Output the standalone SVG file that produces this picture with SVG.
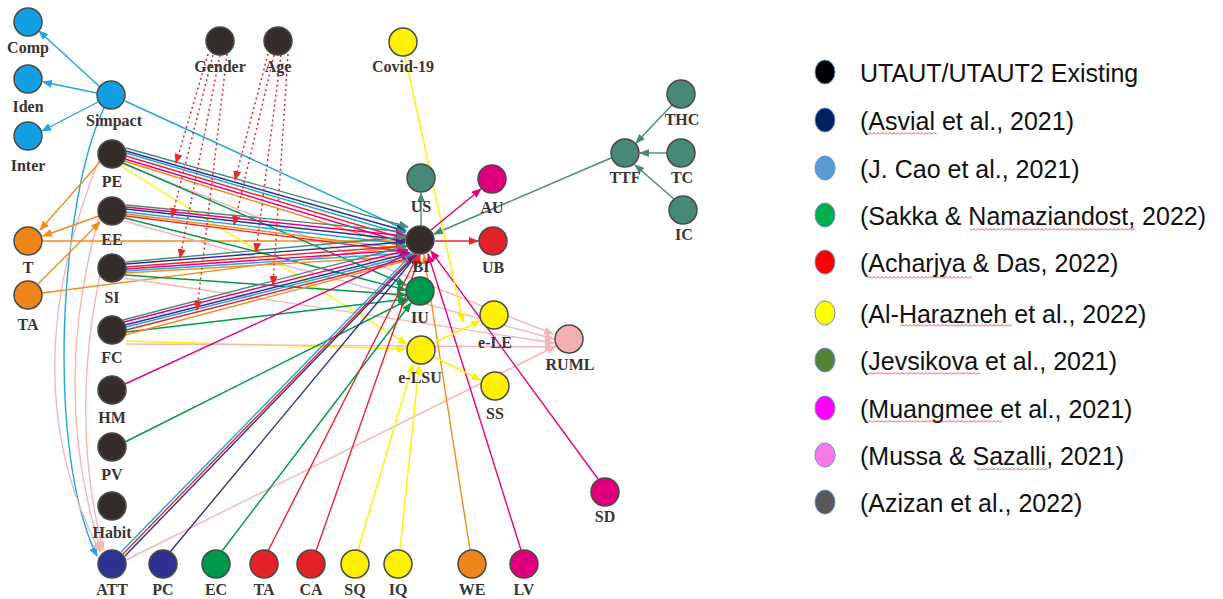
<svg xmlns="http://www.w3.org/2000/svg" width="1223" height="599" viewBox="0 0 1223 599">
<style>
.n{stroke:#4a4a4a;stroke-width:1.5}
.k{fill:#352d2c}.b{fill:#12a0e2}.o{fill:#ee8519}.t{fill:#478877}.m{fill:#e0007e}.r{fill:#e32129}.y{fill:#fff100}.g{fill:#00984a}.v{fill:#2e3190}.p{fill:#f2b1b1}
.lb{font-family:"Liberation Serif",serif;font-weight:bold;font-size:16px;fill:#3b3433;text-anchor:middle}
.c{fill:none;stroke-width:1.4}
.bl{stroke:#1ea5e6;marker-end:url(#m-bl)}
.or{stroke:#f28c1e;marker-end:url(#m-or)}
.rd{stroke:#e8262b;marker-end:url(#m-rd)}
.tl{stroke:#4a8a7a;marker-end:url(#m-tl)}
.nv{stroke:#2e3192;marker-end:url(#m-nv)}
.mg{stroke:#e5007e;marker-end:url(#m-mg)}
.pk{stroke:#f5b5b5;marker-end:url(#m-pk)}
.gn{stroke:#00994c;marker-end:url(#m-gn)}
.yl{stroke:#fff200;marker-end:url(#m-yl)}
.dt{stroke:#e8262b;stroke-dasharray:2 3;stroke-width:1.5;marker-end:url(#m-rd)}
.lg{font-family:"Liberation Sans",Arial,sans-serif;font-size:25px;fill:#111}
.le{stroke:#6a8fd0;stroke-width:1}
</style>
<defs>
<marker id="m-bl" viewBox="0 0 10 8" refX="9" refY="4" markerWidth="10" markerHeight="8" markerUnits="userSpaceOnUse" orient="auto"><path d="M0,0L10,4L0,8z" fill="#1ea5e6"/></marker>
<marker id="m-or" viewBox="0 0 10 8" refX="9" refY="4" markerWidth="10" markerHeight="8" markerUnits="userSpaceOnUse" orient="auto"><path d="M0,0L10,4L0,8z" fill="#f28c1e"/></marker>
<marker id="m-rd" viewBox="0 0 10 8" refX="9" refY="4" markerWidth="10" markerHeight="8" markerUnits="userSpaceOnUse" orient="auto"><path d="M0,0L10,4L0,8z" fill="#e8262b"/></marker>
<marker id="m-tl" viewBox="0 0 10 8" refX="9" refY="4" markerWidth="10" markerHeight="8" markerUnits="userSpaceOnUse" orient="auto"><path d="M0,0L10,4L0,8z" fill="#4a8a7a"/></marker>
<marker id="m-nv" viewBox="0 0 10 8" refX="9" refY="4" markerWidth="10" markerHeight="8" markerUnits="userSpaceOnUse" orient="auto"><path d="M0,0L10,4L0,8z" fill="#2e3192"/></marker>
<marker id="m-mg" viewBox="0 0 10 8" refX="9" refY="4" markerWidth="10" markerHeight="8" markerUnits="userSpaceOnUse" orient="auto"><path d="M0,0L10,4L0,8z" fill="#e5007e"/></marker>
<marker id="m-pk" viewBox="0 0 10 8" refX="9" refY="4" markerWidth="10" markerHeight="8" markerUnits="userSpaceOnUse" orient="auto"><path d="M0,0L10,4L0,8z" fill="#f5b5b5"/></marker>
<marker id="m-gn" viewBox="0 0 10 8" refX="9" refY="4" markerWidth="10" markerHeight="8" markerUnits="userSpaceOnUse" orient="auto"><path d="M0,0L10,4L0,8z" fill="#00994c"/></marker>
<marker id="m-yl" viewBox="0 0 10 8" refX="9" refY="4" markerWidth="10" markerHeight="8" markerUnits="userSpaceOnUse" orient="auto"><path d="M0,0L10,4L0,8z" fill="#fff200"/></marker>
<pattern id="wave" x="0" y="0" width="4" height="3" patternUnits="userSpaceOnUse"><path d="M0,2.5L2,0.5L4,2.5" fill="none" stroke="#e8262b" stroke-width="0.8"/></pattern>
</defs>
<rect width="1223" height="599" fill="#fff"/>

<g id="connectors">
<!-- Simpact -->
<line class="c bl" x1="100" y1="87" x2="39" y2="31"/>
<line class="c bl" x1="97" y1="93" x2="43" y2="82"/>
<line class="c bl" x1="98" y1="102" x2="42" y2="131"/>
<line class="c bl" x1="125" y1="101" x2="406" y2="230"/>
<path class="c bl" d="M104,108 C60,200 45,450 97,556"/>
<!-- pink arcs to ATT -->
<path class="c pk" d="M99,160 Q10,380 100,552"/>
<path class="c pk" d="M99,217 Q50,390 101,551"/>
<path class="c pk" d="M100,275 Q70,420 103,550"/>
<!-- orange left -->
<line class="c or" x1="100" y1="162" x2="40" y2="230"/>
<line class="c or" x1="99" y1="216" x2="43" y2="236"/>
<line class="c or" x1="38" y1="284" x2="100" y2="222"/>
<line class="c or" x1="42" y1="241" x2="405" y2="241"/>
<line class="c or" x1="42" y1="293" x2="406" y2="246"/>
<!-- PE bundle -->
<line class="c tl" x1="126" y1="148" x2="408" y2="227"/>
<line class="c nv" x1="126" y1="151" x2="405" y2="231"/>
<line class="c bl" x1="126" y1="153" x2="406" y2="235"/>
<line class="c rd" x1="126" y1="156" x2="405" y2="239"/>
<line class="c mg" x1="125" y1="159" x2="405" y2="243"/>
<line class="c or" x1="124" y1="161" x2="406" y2="248"/>
<line class="c pk" x1="123" y1="164" x2="553" y2="334"/>
<line class="c gn" x1="123" y1="163" x2="406" y2="285"/>
<line class="c yl" x1="121" y1="166" x2="407" y2="344"/>
<!-- EE bundle -->
<line class="c tl" x1="126" y1="205" x2="406" y2="232"/>
<line class="c mg" x1="126" y1="207" x2="405" y2="236"/>
<line class="c nv" x1="126" y1="209" x2="405" y2="240"/>
<line class="c bl" x1="126" y1="212" x2="405" y2="244"/>
<line class="c or" x1="126" y1="214" x2="406" y2="249"/>
<line class="c rd" x1="126" y1="216" x2="408" y2="252"/>
<line class="c gn" x1="125" y1="218" x2="406" y2="290"/>
<line class="c pk" x1="124" y1="221" x2="554" y2="339"/>
<!-- SI bundle -->
<line class="c tl" x1="126" y1="262" x2="406" y2="237"/>
<line class="c nv" x1="126" y1="264" x2="405" y2="242"/>
<line class="c rd" x1="126" y1="267" x2="406" y2="246"/>
<line class="c mg" x1="126" y1="269" x2="407" y2="250"/>
<line class="c bl" x1="126" y1="271" x2="409" y2="253"/>
<line class="c or" x1="125" y1="273" x2="411" y2="256"/>
<line class="c gn" x1="125" y1="275" x2="406" y2="295"/>
<line class="c pk" x1="124" y1="278" x2="554" y2="343"/>
<!-- FC bundle -->
<line class="c tl" x1="123" y1="320" x2="407" y2="246"/>
<line class="c mg" x1="124" y1="322" x2="408" y2="250"/>
<line class="c nv" x1="125" y1="325" x2="410" y2="253"/>
<line class="c bl" x1="126" y1="327" x2="412" y2="255"/>
<line class="c rd" x1="126" y1="330" x2="414" y2="257"/>
<line class="c gn" x1="126" y1="332" x2="407" y2="299"/>
<line class="c or" x1="125" y1="335" x2="416" y2="258"/>
<line class="c yl" x1="126" y1="341" x2="406" y2="349"/>
<line class="c pk" x1="126" y1="344" x2="554" y2="347"/>
<!-- others to BI / IU -->
<line class="c mg" x1="125" y1="384" x2="410" y2="253"/>
<line class="c gn" x1="125" y1="442" x2="408" y2="300"/>
<line class="c bl" x1="121" y1="552" x2="413" y2="253"/>
<line class="c rd" x1="123" y1="554" x2="415" y2="254"/>
<line class="c nv" x1="125" y1="556" x2="416" y2="255"/>
<line class="c pk" x1="126" y1="560" x2="556" y2="346"/>
<line class="c nv" x1="170" y1="552" x2="417" y2="255"/>
<line class="c gn" x1="222" y1="551" x2="411" y2="303"/>
<line class="c rd" x1="268" y1="551" x2="418" y2="255"/>
<line class="c rd" x1="316" y1="551" x2="420" y2="255"/>
<line class="c yl" x1="358" y1="550" x2="413" y2="364"/>
<line class="c yl" x1="400" y1="550" x2="419" y2="365"/>
<line class="c or" x1="470" y1="550" x2="424" y2="255"/>
<line class="c mg" x1="521" y1="550" x2="428" y2="254"/>
<line class="c mg" x1="598" y1="479" x2="431" y2="251"/>
<line class="c tl" x1="611" y1="158" x2="434" y2="234"/>
<line class="c yl" x1="405" y1="56" x2="463" y2="322"/>
<!-- outgoing from BI / e-LSU -->
<line class="c tl" x1="421" y1="226" x2="421" y2="193"/>
<line class="c mg" x1="431" y1="230" x2="481" y2="189"/>
<line class="c rd" x1="435" y1="241" x2="478" y2="241"/>
<line class="c yl" x1="433" y1="343" x2="480" y2="321"/>
<line class="c yl" x1="434" y1="357" x2="481" y2="380"/>
<!-- TTF -->
<line class="c tl" x1="672" y1="105" x2="636" y2="143"/>
<line class="c tl" x1="667" y1="153" x2="640" y2="153"/>
<line class="c tl" x1="674" y1="199" x2="635" y2="165"/>
<!-- moderators -->
<line class="dt" x1="208" y1="54" x2="176" y2="163"/>
<line class="dt" x1="213" y1="55" x2="172" y2="217"/>
<line class="dt" x1="220" y1="55" x2="180" y2="258"/>
<line class="dt" x1="227" y1="54" x2="197" y2="310"/>
<line class="dt" x1="268" y1="54" x2="235" y2="180"/>
<line class="dt" x1="274" y1="55" x2="234" y2="225"/>
<line class="dt" x1="281" y1="55" x2="256" y2="252"/>
<line class="dt" x1="288" y1="54" x2="273" y2="285"/>
</g>

<g id="node-Comp"><circle class="n b" cx="28" cy="22" r="14"/><text class="lb" x="28" y="53">Comp</text></g>
<g id="node-Iden"><circle class="n b" cx="28" cy="79" r="14"/><text class="lb" x="28" y="112">Iden</text></g>
<g id="node-Inter"><circle class="n b" cx="28" cy="136" r="14"/><text class="lb" x="28" y="171">Inter</text></g>
<g id="node-Simpact"><circle class="n b" cx="111" cy="95" r="14"/><text class="lb" x="114" y="126">Simpact</text></g>
<g id="node-Gender"><circle class="n k" cx="220" cy="41" r="14"/><text class="lb" x="220" y="72">Gender</text></g>
<g id="node-Age"><circle class="n k" cx="278" cy="41" r="14"/><text class="lb" x="278" y="72">Age</text></g>
<g id="node-Covid19"><circle class="n y" cx="403" cy="42" r="14"/><text class="lb" x="403" y="72">Covid-19</text></g>
<g id="node-PE"><circle class="n k" cx="112" cy="154" r="14"/><text class="lb" x="112" y="187">PE</text></g>
<g id="node-EE"><circle class="n k" cx="112" cy="211" r="14"/><text class="lb" x="112" y="245">EE</text></g>
<g id="node-SI"><circle class="n k" cx="112" cy="268" r="14"/><text class="lb" x="112" y="303">SI</text></g>
<g id="node-FC"><circle class="n k" cx="112" cy="330" r="14"/><text class="lb" x="112" y="363">FC</text></g>
<g id="node-HM"><circle class="n k" cx="112" cy="390" r="14"/><text class="lb" x="112" y="423">HM</text></g>
<g id="node-PV"><circle class="n k" cx="112" cy="447" r="14"/><text class="lb" x="112" y="480">PV</text></g>
<g id="node-Habit"><circle class="n k" cx="112" cy="506" r="14"/><text class="lb" x="112" y="538">Habit</text></g>
<g id="node-T"><circle class="n o" cx="28" cy="241" r="14"/><text class="lb" x="28" y="273">T</text></g>
<g id="node-TA-left"><circle class="n o" cx="28" cy="295" r="14"/><text class="lb" x="28" y="330">TA</text></g>
<g id="node-ATT"><circle class="n v" cx="112" cy="564" r="14"/><text class="lb" x="112" y="595">ATT</text></g>
<g id="node-PC"><circle class="n v" cx="163" cy="564" r="14"/><text class="lb" x="163" y="595">PC</text></g>
<g id="node-EC"><circle class="n g" cx="216" cy="564" r="14"/><text class="lb" x="216" y="595">EC</text></g>
<g id="node-TA-bottom"><circle class="n r" cx="264" cy="564" r="14"/><text class="lb" x="264" y="595">TA</text></g>
<g id="node-CA"><circle class="n r" cx="311" cy="564" r="14"/><text class="lb" x="311" y="595">CA</text></g>
<g id="node-SQ"><circle class="n y" cx="355" cy="564" r="14"/><text class="lb" x="355" y="595">SQ</text></g>
<g id="node-IQ"><circle class="n y" cx="398" cy="564" r="14"/><text class="lb" x="398" y="595">IQ</text></g>
<g id="node-WE"><circle class="n o" cx="472" cy="564" r="14"/><text class="lb" x="472" y="595">WE</text></g>
<g id="node-LV"><circle class="n m" cx="524" cy="564" r="14"/><text class="lb" x="524" y="595">LV</text></g>
<g id="node-SD"><circle class="n m" cx="605" cy="492" r="14"/><text class="lb" x="605" y="522">SD</text></g>
<g id="node-US"><circle class="n t" cx="421" cy="178" r="14"/><text class="lb" x="421" y="212">US</text></g>
<g id="node-AU"><circle class="n m" cx="492" cy="179" r="14"/><text class="lb" x="492" y="213">AU</text></g>
<g id="node-BI"><circle class="n k" cx="420" cy="240" r="14"/><text class="lb" x="421" y="272">BI</text></g>
<g id="node-UB"><circle class="n r" cx="493" cy="241" r="14"/><text class="lb" x="493" y="273">UB</text></g>
<g id="node-IU"><circle class="n g" cx="420" cy="291" r="14"/><text class="lb" x="420" y="323">IU</text></g>
<g id="node-eLE"><circle class="n y" cx="494" cy="315" r="14"/><text class="lb" x="495" y="348">e-LE</text></g>
<g id="node-eLSU"><circle class="n y" cx="421" cy="350" r="14"/><text class="lb" x="420" y="383">e-LSU</text></g>
<g id="node-SS"><circle class="n y" cx="495" cy="386" r="14"/><text class="lb" x="495" y="419">SS</text></g>
<g id="node-RUML"><circle class="n p" cx="569" cy="339" r="14"/><text class="lb" x="570" y="370">RUML</text></g>
<g id="node-TTF"><circle class="n t" cx="625" cy="153" r="14"/><text class="lb" x="625" y="183">TTF</text></g>
<g id="node-THC"><circle class="n t" cx="681" cy="94" r="14"/><text class="lb" x="682" y="125">THC</text></g>
<g id="node-TC"><circle class="n t" cx="681" cy="153" r="14"/><text class="lb" x="682" y="183">TC</text></g>
<g id="node-IC"><circle class="n t" cx="683" cy="210" r="14"/><text class="lb" x="684" y="240">IC</text></g>

<g id="legend">
<ellipse class="le" cx="825" cy="72" rx="10" ry="12" fill="#000"/>
<text class="lg" x="860" y="82">UTAUT/UTAUT2 Existing</text>
<ellipse class="le" cx="825" cy="120" rx="10" ry="12" fill="#002060"/>
<text class="lg" x="860" y="130">(Asvial et al., 2021)</text>
<rect x="868" y="132" width="69" height="3" fill="url(#wave)"/>
<ellipse class="le" cx="825" cy="168" rx="10" ry="12" fill="#5b9bd5"/>
<text class="lg" x="860" y="178">(J. Cao et al., 2021)</text>
<ellipse class="le" cx="825" cy="215" rx="10" ry="12" fill="#00b050"/>
<text class="lg" x="860" y="225">(Sakka &amp; Namaziandost, 2022)</text>
<rect x="970" y="228" width="165" height="3" fill="url(#wave)"/>
<ellipse class="le" cx="825" cy="262" rx="10" ry="12" fill="#ff0000"/>
<text class="lg" x="860" y="272">(Acharjya &amp; Das, 2022)</text>
<rect x="868" y="276" width="104" height="3" fill="url(#wave)"/>
<ellipse class="le" cx="825" cy="313" rx="10" ry="12" fill="#ffff00"/>
<text class="lg" x="860" y="323">(Al-Harazneh et al., 2022)</text>
<rect x="900" y="324" width="112" height="3" fill="url(#wave)"/>
<ellipse class="le" cx="825" cy="360" rx="10" ry="12" fill="#548235"/>
<text class="lg" x="860" y="370">(Jevsikova et al., 2021)</text>
<rect x="868" y="372" width="112" height="3" fill="url(#wave)"/>
<ellipse class="le" cx="825" cy="408" rx="10" ry="12" fill="#ff00ff"/>
<text class="lg" x="860" y="418">(Muangmee et al., 2021)</text>
<rect x="868" y="420" width="134" height="3" fill="url(#wave)"/>
<ellipse class="le" cx="825" cy="455" rx="10" ry="12" fill="#f87ae8"/>
<text class="lg" x="860" y="465">(Mussa &amp; Sazalli, 2021)</text>
<rect x="977" y="467" width="71" height="3" fill="url(#wave)"/>
<ellipse class="le" cx="825" cy="502" rx="10" ry="12" fill="#595959"/>
<text class="lg" x="860" y="512">(Azizan et al., 2022)</text>
</g>
</svg>
